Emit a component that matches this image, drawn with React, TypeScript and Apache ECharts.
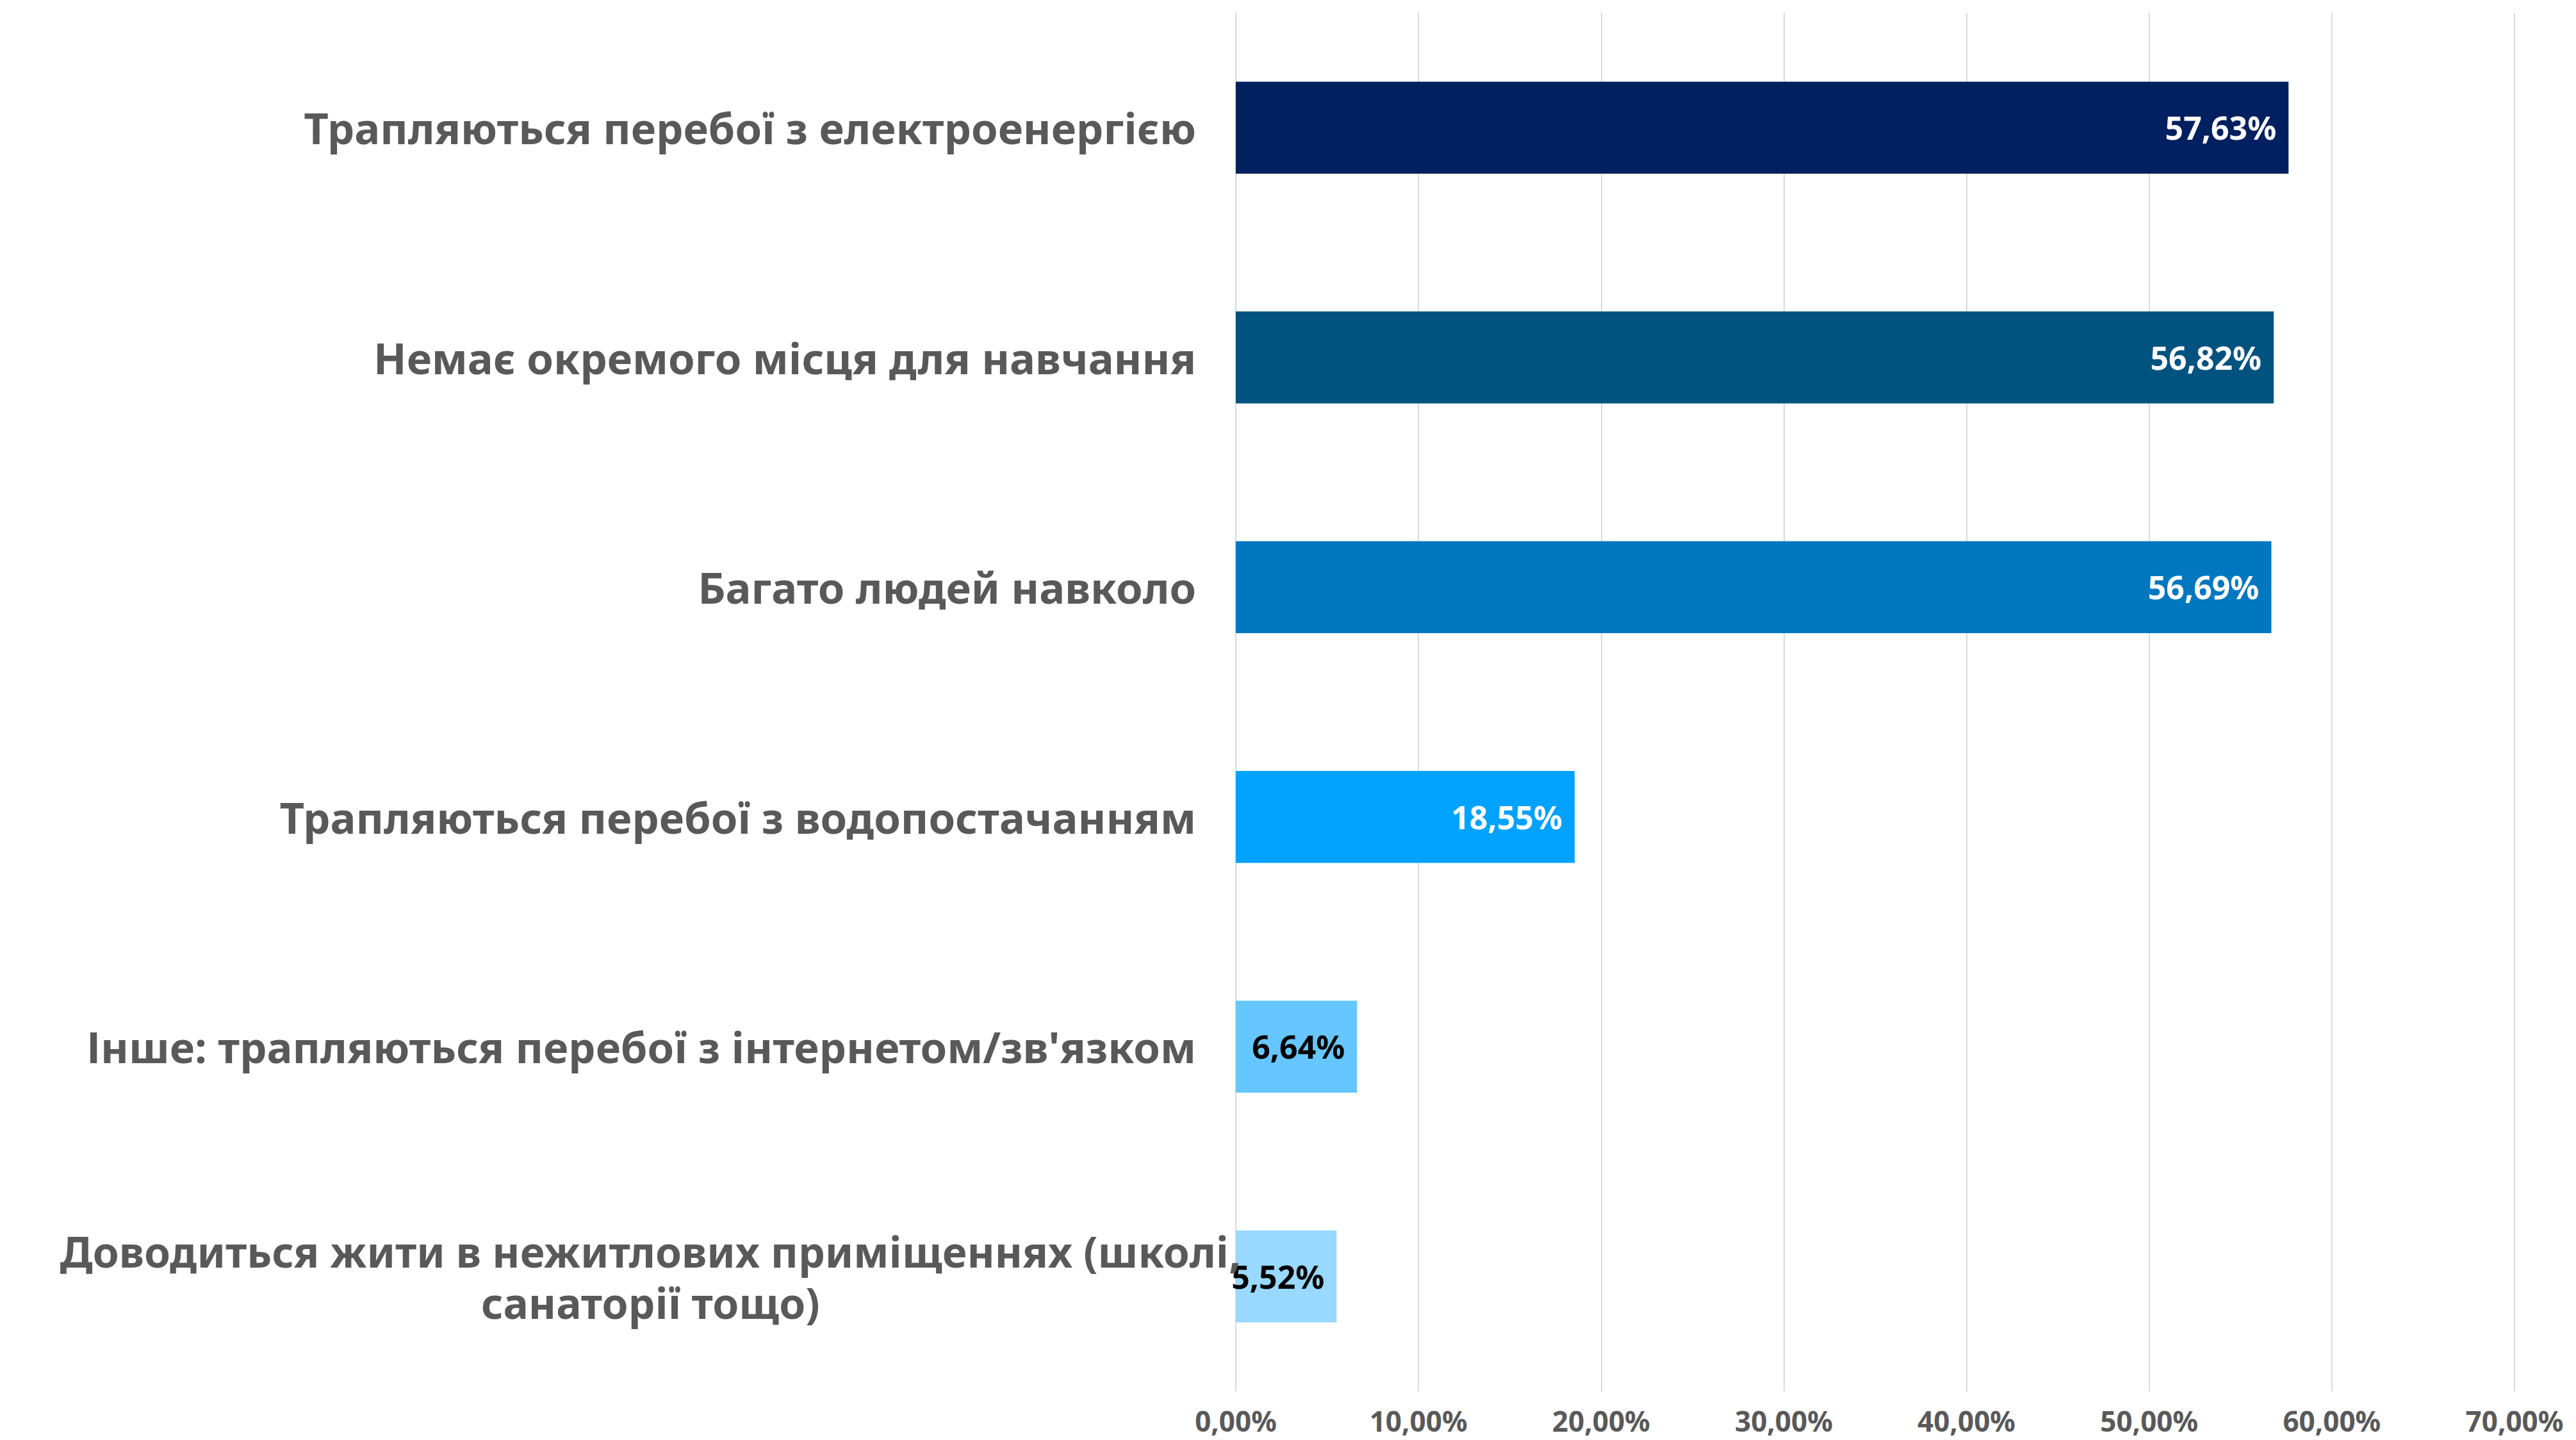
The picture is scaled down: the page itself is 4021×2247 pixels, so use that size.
import React, { useEffect, useRef } from "react";
import * as echarts from "echarts";

const categories = [
  "Трапляються перебої з електроенергією",
  "Немає окремого місця для навчання",
  "Багато людей навколо",
  "Трапляються перебої з водопостачанням",
  "Інше: трапляються перебої з інтернетом/зв'язком",
  "Доводиться жити в нежитлових приміщеннях (школі,\nсанаторії тощо)",
];
const values = [57.63, 56.82, 56.69, 18.55, 6.64, 5.52];
const barColors = ["#002060", "#00527F", "#0077BE", "#00A2FF", "#66C6FF", "#99D8FF"];
const labelColors = ["#FFFFFF", "#FFFFFF", "#FFFFFF", "#FFFFFF", "#000000", "#000000"];
const axisMax = 70;
const axisInterval = 10;

const FONT = "'Noto Sans', sans-serif";
const fmt = (v: number) => v.toFixed(2).replace(".", ",") + "%";

export default function App() {
  const ref = useRef<HTMLDivElement>(null);
  useEffect(() => {
    if (!ref.current) return;
    const chart = echarts.init(ref.current, undefined, { renderer: "svg" });
    chart.setOption({
      animation: false,
      backgroundColor: "#FFFFFF",
      textStyle: { fontFamily: FONT },
      grid: { left: 1929, right: 96, top: 20, bottom: 76, containLabel: false },
      xAxis: {
        type: "value",
        min: 0,
        max: axisMax,
        interval: axisInterval,
        axisLine: { show: false },
        axisTick: { show: false },
        splitLine: { show: true, lineStyle: { color: "#D9D9D9", width: 2 } },
        axisLabel: {
          margin: 24,
          fontSize: 44,
          fontWeight: "bold",
          fontFamily: FONT,
          color: "#595959",
          formatter: (v: number) => fmt(v),
        },
      },
      yAxis: {
        type: "category",
        inverse: true,
        z: 5,
        data: categories,
        axisLine: { show: false },
        axisTick: { show: false },
        axisLabel: {
          margin: -8,
          fontFamily: FONT,
          formatter: (v: string) => {
            const lines = v.split("\n");
            if (lines.length > 1) return lines.map((l) => `{c|${l}}`).join("\n");
            return `{n|${v}}`;
          },
          rich: {
            n: {
              fontSize: 67,
              fontWeight: "bold",
              fontFamily: FONT,
              color: "#595959",
              padding: [0, 70, 0, 0],
            },
            c: {
              fontSize: 66,
              fontWeight: "bold",
              fontFamily: FONT,
              color: "#595959",
              align: "center",
              lineHeight: 80,
            },
          },
        },
      },
      series: [
        {
          type: "bar",
          barCategoryGap: "60%",
          data: values.map((v, i) => ({
            value: v,
            itemStyle: { color: barColors[i] },
            label: { color: labelColors[i] },
          })),
          label: {
            show: true,
            position: "insideRight",
            distance: 19,
            fontSize: 50,
            fontWeight: "bold",
            fontFamily: FONT,
            formatter: (p: any) => fmt(p.value),
          },
        },
      ],
    });
    return () => chart.dispose();
  }, []);
  return (
    <div
      ref={ref}
      style={{ position: "fixed", left: 0, top: 0, width: 4021, height: 2247 }}
    />
  );
}
